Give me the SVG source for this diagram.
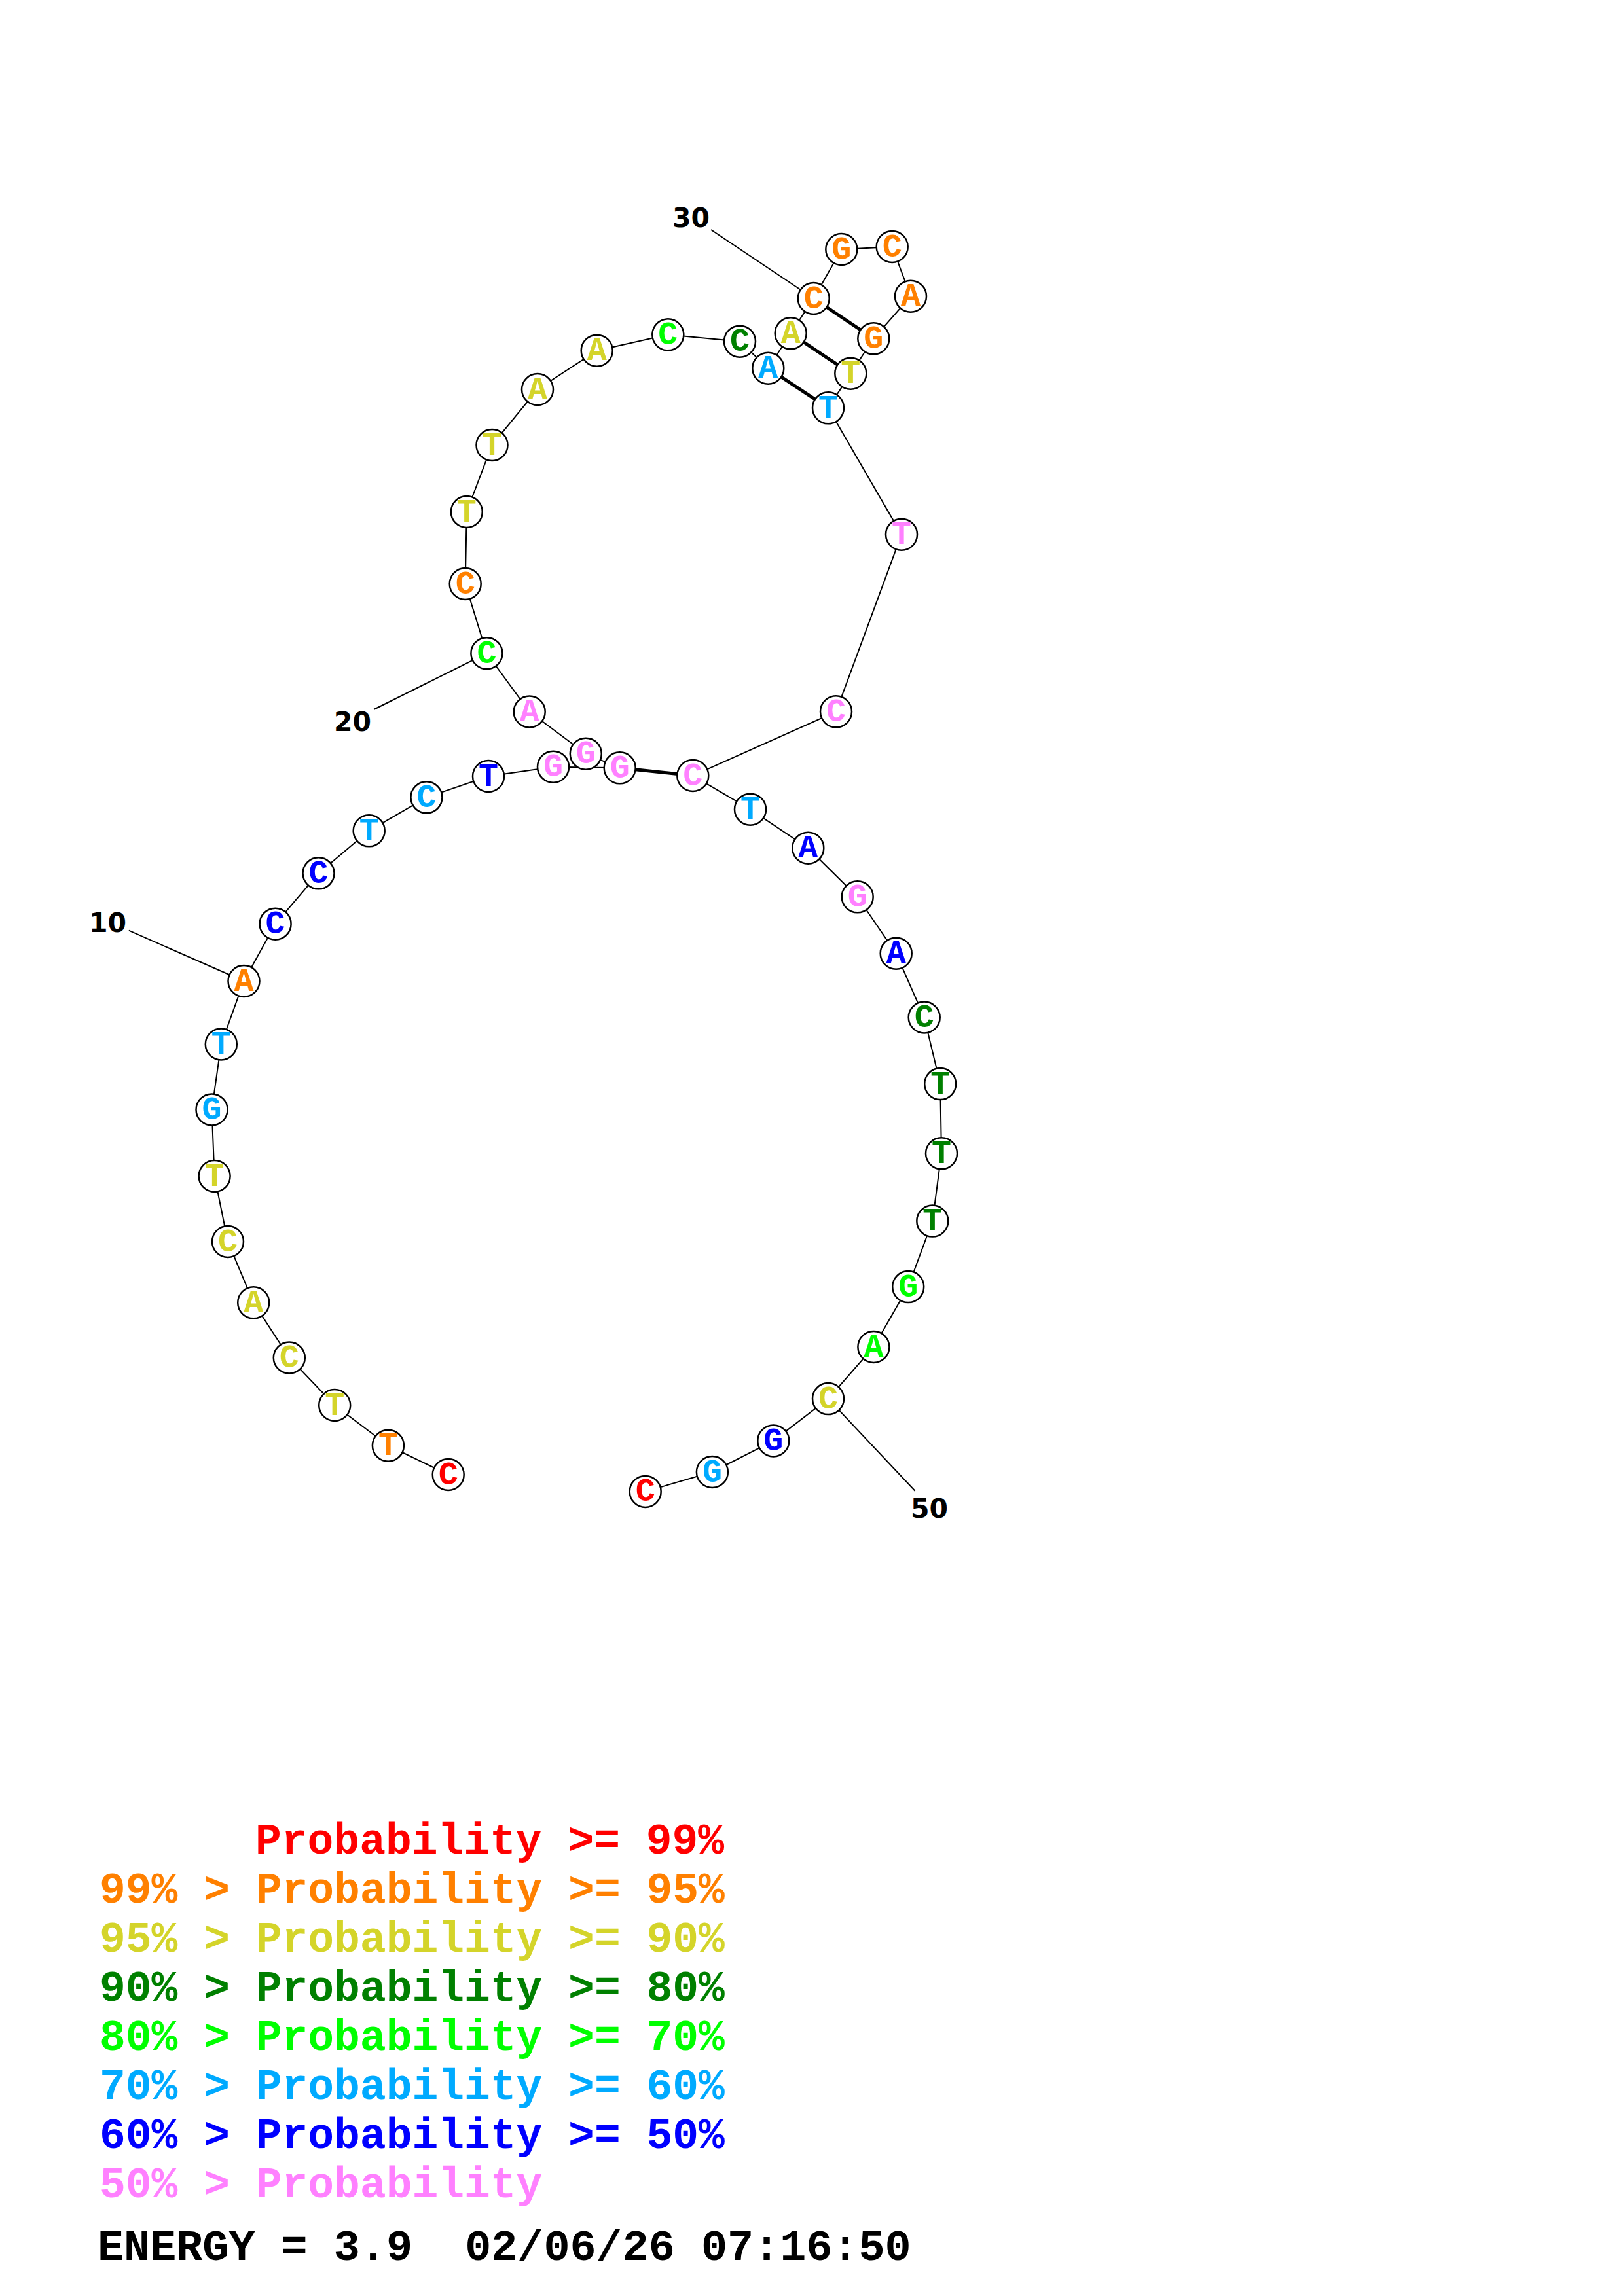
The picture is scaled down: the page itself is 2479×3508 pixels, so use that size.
<svg xmlns="http://www.w3.org/2000/svg" width="2479" height="3508" viewBox="0 0 2479 3508">
<style>
.bb{stroke:#000;stroke-width:2;fill:none}
.bp{stroke:#000;stroke-width:5;fill:none}
.nc{fill:#fff;stroke:#000;stroke-width:2.5}
.nt{font-family:"Liberation Mono","Courier New",monospace;font-weight:bold;font-size:50px;text-anchor:middle}
.num{font-family:"DejaVu Sans",sans-serif;font-weight:bold;font-size:41px;fill:#000}
.lg{font-family:"Liberation Mono","Courier New",monospace;font-weight:bold;font-size:66.3px}
.r{fill:#FF0000}.o{fill:#FF8000}.y{fill:#D4D42A}.dg{fill:#008000}.g{fill:#00FF00}.lb{fill:#00AAFF}.b{fill:#0000FF}.p{fill:#FF80FF}
</style>
<rect width="2479" height="3508" fill="#fff"/>
<g id="connectors">
<polyline class="bb" points="684.7,2253 592.9,2208.7 511.2,2147 441.8,2074.5 387.2,1990.3 348,1897 327.6,1797 323.5,1695.4 337.8,1595.4 372.5,1499 420.6,1411.7 486.5,1334.3 563.7,1269.3 651.4,1218.3 746,1186 845,1171.7 946.7,1173.3 894.8,1151.7 808.7,1087.5 743.4,998.2 710.7,892 712.8,782 751.5,680 821,595 911.7,535.7 1020.3,511.3 1130,521.7 1173.3,562.7 1207.7,509.3 1242.7,456 1285.3,381 1362.7,377 1391,452.7 1334.3,517.3 1299.3,570.7 1265,623.3 1377,816.7 1277,1087.3 1058.3,1185 1146,1236.7 1234.3,1295.7 1309.7,1370.3 1368.7,1456.7 1411.7,1554.5 1436.2,1656.1 1438,1762.3 1424.3,1865.6 1387.2,1966.1 1334.4,2058 1265,2137.1 1181.3,2201.4 1087.9,2249 985.7,2278.9"/>
<line class="bp" x1="946.7" y1="1173.3" x2="1058.3" y2="1185"/>
<line class="bp" x1="1173.3" y1="562.7" x2="1265" y2="623.3"/>
<line class="bp" x1="1207.7" y1="509.3" x2="1299.3" y2="570.7"/>
<line class="bp" x1="1242.7" y1="456" x2="1334.3" y2="517.3"/>
<line class="bb" x1="196.7" y1="1421.7" x2="372.5" y2="1499"/>
<line class="bb" x1="571" y1="1084" x2="743.4" y2="998.2"/>
<line class="bb" x1="1086" y1="351" x2="1242.7" y2="456"/>
<line class="bb" x1="1397.5" y1="2277.8" x2="1265" y2="2137.1"/>
</g>
<g id="labels">
<text class="num" x="136" y="1424">10</text>
<text class="num" x="510" y="1117">20</text>
<text class="num" x="1027" y="347">30</text>
<text class="num" x="1391" y="2319">50</text>
</g>
<g id="n1"><circle class="nc" cx="684.7" cy="2253" r="24"/><text class="nt r" x="684.7" y="2267.5">C</text></g>
<g id="n2"><circle class="nc" cx="592.9" cy="2208.7" r="24"/><text class="nt o" x="592.9" y="2223.2">T</text></g>
<g id="n3"><circle class="nc" cx="511.2" cy="2147" r="24"/><text class="nt y" x="511.2" y="2161.5">T</text></g>
<g id="n4"><circle class="nc" cx="441.8" cy="2074.5" r="24"/><text class="nt y" x="441.8" y="2089">C</text></g>
<g id="n5"><circle class="nc" cx="387.2" cy="1990.3" r="24"/><text class="nt y" x="387.2" y="2004.8">A</text></g>
<g id="n6"><circle class="nc" cx="348" cy="1897" r="24"/><text class="nt y" x="348" y="1911.5">C</text></g>
<g id="n7"><circle class="nc" cx="327.6" cy="1797" r="24"/><text class="nt y" x="327.6" y="1811.5">T</text></g>
<g id="n8"><circle class="nc" cx="323.5" cy="1695.4" r="24"/><text class="nt lb" x="323.5" y="1709.9">G</text></g>
<g id="n9"><circle class="nc" cx="337.8" cy="1595.4" r="24"/><text class="nt lb" x="337.8" y="1609.9">T</text></g>
<g id="n10"><circle class="nc" cx="372.5" cy="1499" r="24"/><text class="nt o" x="372.5" y="1513.5">A</text></g>
<g id="n11"><circle class="nc" cx="420.6" cy="1411.7" r="24"/><text class="nt b" x="420.6" y="1426.2">C</text></g>
<g id="n12"><circle class="nc" cx="486.5" cy="1334.3" r="24"/><text class="nt b" x="486.5" y="1348.8">C</text></g>
<g id="n13"><circle class="nc" cx="563.7" cy="1269.3" r="24"/><text class="nt lb" x="563.7" y="1283.8">T</text></g>
<g id="n14"><circle class="nc" cx="651.4" cy="1218.3" r="24"/><text class="nt lb" x="651.4" y="1232.8">C</text></g>
<g id="n15"><circle class="nc" cx="746" cy="1186" r="24"/><text class="nt b" x="746" y="1200.5">T</text></g>
<g id="n16"><circle class="nc" cx="845" cy="1171.7" r="24"/><text class="nt p" x="845" y="1186.2">G</text></g>
<g id="n18"><circle class="nc" cx="894.8" cy="1151.7" r="24"/><text class="nt p" x="894.8" y="1166.2">G</text></g>
<g id="n17"><circle class="nc" cx="946.7" cy="1173.3" r="24"/><text class="nt p" x="946.7" y="1187.8">G</text></g>
<g id="n19"><circle class="nc" cx="808.7" cy="1087.5" r="24"/><text class="nt p" x="808.7" y="1102">A</text></g>
<g id="n20"><circle class="nc" cx="743.4" cy="998.2" r="24"/><text class="nt g" x="743.4" y="1012.7">C</text></g>
<g id="n21"><circle class="nc" cx="710.7" cy="892" r="24"/><text class="nt o" x="710.7" y="906.5">C</text></g>
<g id="n22"><circle class="nc" cx="712.8" cy="782" r="24"/><text class="nt y" x="712.8" y="796.5">T</text></g>
<g id="n23"><circle class="nc" cx="751.5" cy="680" r="24"/><text class="nt y" x="751.5" y="694.5">T</text></g>
<g id="n24"><circle class="nc" cx="821" cy="595" r="24"/><text class="nt y" x="821" y="609.5">A</text></g>
<g id="n25"><circle class="nc" cx="911.7" cy="535.7" r="24"/><text class="nt y" x="911.7" y="550.2">A</text></g>
<g id="n26"><circle class="nc" cx="1020.3" cy="511.3" r="24"/><text class="nt g" x="1020.3" y="525.8">C</text></g>
<g id="n27"><circle class="nc" cx="1130" cy="521.7" r="24"/><text class="nt dg" x="1130" y="536.2">C</text></g>
<g id="n28"><circle class="nc" cx="1173.3" cy="562.7" r="24"/><text class="nt lb" x="1173.3" y="577.2">A</text></g>
<g id="n29"><circle class="nc" cx="1207.7" cy="509.3" r="24"/><text class="nt y" x="1207.7" y="523.8">A</text></g>
<g id="n30"><circle class="nc" cx="1242.7" cy="456" r="24"/><text class="nt o" x="1242.7" y="470.5">C</text></g>
<g id="n31"><circle class="nc" cx="1285.3" cy="381" r="24"/><text class="nt o" x="1285.3" y="395.5">G</text></g>
<g id="n32"><circle class="nc" cx="1362.7" cy="377" r="24"/><text class="nt o" x="1362.7" y="391.5">C</text></g>
<g id="n33"><circle class="nc" cx="1391" cy="452.7" r="24"/><text class="nt o" x="1391" y="467.2">A</text></g>
<g id="n34"><circle class="nc" cx="1334.3" cy="517.3" r="24"/><text class="nt o" x="1334.3" y="531.8">G</text></g>
<g id="n35"><circle class="nc" cx="1299.3" cy="570.7" r="24"/><text class="nt y" x="1299.3" y="585.2">T</text></g>
<g id="n36"><circle class="nc" cx="1265" cy="623.3" r="24"/><text class="nt lb" x="1265" y="637.8">T</text></g>
<g id="n37"><circle class="nc" cx="1377" cy="816.7" r="24"/><text class="nt p" x="1377" y="831.2">T</text></g>
<g id="n38"><circle class="nc" cx="1277" cy="1087.3" r="24"/><text class="nt p" x="1277" y="1101.8">C</text></g>
<g id="n39"><circle class="nc" cx="1058.3" cy="1185" r="24"/><text class="nt p" x="1058.3" y="1199.5">C</text></g>
<g id="n40"><circle class="nc" cx="1146" cy="1236.7" r="24"/><text class="nt lb" x="1146" y="1251.2">T</text></g>
<g id="n41"><circle class="nc" cx="1234.3" cy="1295.7" r="24"/><text class="nt b" x="1234.3" y="1310.2">A</text></g>
<g id="n42"><circle class="nc" cx="1309.7" cy="1370.3" r="24"/><text class="nt p" x="1309.7" y="1384.8">G</text></g>
<g id="n43"><circle class="nc" cx="1368.7" cy="1456.7" r="24"/><text class="nt b" x="1368.7" y="1471.2">A</text></g>
<g id="n44"><circle class="nc" cx="1411.7" cy="1554.5" r="24"/><text class="nt dg" x="1411.7" y="1569">C</text></g>
<g id="n45"><circle class="nc" cx="1436.2" cy="1656.1" r="24"/><text class="nt dg" x="1436.2" y="1670.6">T</text></g>
<g id="n46"><circle class="nc" cx="1438" cy="1762.3" r="24"/><text class="nt dg" x="1438" y="1776.8">T</text></g>
<g id="n47"><circle class="nc" cx="1424.3" cy="1865.6" r="24"/><text class="nt dg" x="1424.3" y="1880.1">T</text></g>
<g id="n48"><circle class="nc" cx="1387.2" cy="1966.1" r="24"/><text class="nt g" x="1387.2" y="1980.6">G</text></g>
<g id="n49"><circle class="nc" cx="1334.4" cy="2058" r="24"/><text class="nt g" x="1334.4" y="2072.5">A</text></g>
<g id="n50"><circle class="nc" cx="1265" cy="2137.1" r="24"/><text class="nt y" x="1265" y="2151.6">C</text></g>
<g id="n51"><circle class="nc" cx="1181.3" cy="2201.4" r="24"/><text class="nt b" x="1181.3" y="2215.9">G</text></g>
<g id="n52"><circle class="nc" cx="1087.9" cy="2249" r="24"/><text class="nt lb" x="1087.9" y="2263.5">G</text></g>
<g id="n53"><circle class="nc" cx="985.7" cy="2278.9" r="24"/><text class="nt r" x="985.7" y="2293.4">C</text></g>
<g id="legend">
<text class="lg r" x="390" y="2831.7">Probability &gt;= 99%</text>
<text class="lg o" x="152" y="2906.7">99% &gt; Probability &gt;= 95%</text>
<text class="lg y" x="152" y="2981.7">95% &gt; Probability &gt;= 90%</text>
<text class="lg dg" x="152" y="3056.7">90% &gt; Probability &gt;= 80%</text>
<text class="lg g" x="152" y="3131.7">80% &gt; Probability &gt;= 70%</text>
<text class="lg lb" x="152" y="3206.7">70% &gt; Probability &gt;= 60%</text>
<text class="lg b" x="152" y="3281.7">60% &gt; Probability &gt;= 50%</text>
<text class="lg p" x="152" y="3356.7">50% &gt; Probability</text>
<text class="lg" fill="#000" x="149" y="3452.7" style="font-size:66.8px" xml:space="preserve">ENERGY = 3.9  02/06/26 07:16:50</text>
</g>
</svg>
